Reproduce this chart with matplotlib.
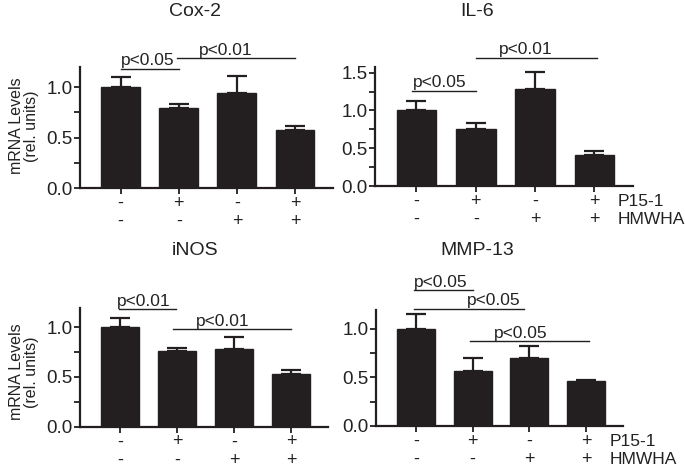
import numpy as np
import matplotlib
matplotlib.use("Agg")
import matplotlib.pyplot as plt
from matplotlib.ticker import MultipleLocator, FuncFormatter

plt.rcParams['font.family'] = ['Liberation Sans', 'DejaVu Sans']

# data
genes = ["Cox-2", "IL-6", "iNOS", "MMP-13"]
p15_row = ["-", "+", "-", "+"]
hmwha_row = ["-", "-", "+", "+"]

cox2_mean = [1.00, 0.79, 0.94, 0.58]
cox2_err = [0.10, 0.04, 0.17, 0.04]
il6_mean = [1.00, 0.755, 1.29, 0.41]
il6_err = [0.13, 0.085, 0.22, 0.05]
inos_mean = [1.00, 0.76, 0.78, 0.53]
inos_err = [0.095, 0.03, 0.12, 0.04]
mmp13_mean = [1.00, 0.567, 0.70, 0.464]
mmp13_err = [0.155, 0.133, 0.12, 0.011]

# significance bars: (x1, x2, y, label, label_x)
cox2_sig = [(0, 1, 1.185, "p<0.05", 0.47), (0.97, 3, 1.29, "p<0.01", 1.80)]
il6_sig = [(-0.07, 1, 1.26, "p<0.05", 0.39), (1, 3.05, 1.70, "p<0.01", 1.85)]
inos_sig = [(-0.02, 0.98, 1.18, "p<0.01", 0.42), (0.93, 3.0, 0.98, "p<0.01", 1.80)]
mmp13_sig = [(-0.03, 1.0, 1.40, "p<0.05", 0.435), (-0.03, 1.91, 1.21, "p<0.05", 1.38),
             (0.95, 3.05, 0.876, "p<0.05", 1.85)]

panels = [
    # gene, mean, err, sig, axes rect, ylim, show row names
    (genes[0], cox2_mean, cox2_err, cox2_sig, [0.1168, 0.5974, 0.369, 0.259], 1.2, False),
    (genes[1], il6_mean, il6_err, il6_sig, [0.5474, 0.6017, 0.3766, 0.2556], 1.58, True),
    (genes[2], inos_mean, inos_err, inos_sig, [0.1168, 0.0863, 0.362, 0.2535], 1.19, False),
    (genes[3], mmp13_mean, mmp13_err, mmp13_sig, [0.549, 0.0878, 0.3606, 0.2484], 1.195, True),
]
title_pos = [(195, 11), (477, 11), (195, 250), (477, 250)]

bar_color = "#231f20"
txt_color = "#222222"
W, H = 685, 467

fig = plt.figure(figsize=(6.85, 4.67), dpi=100)

for k, (name, mean, err, sig, rect, ytop, show_names) in enumerate(panels):
    ax = fig.add_axes(rect)
    x = np.arange(len(mean))
    ax.bar(x, mean, width=0.67, color=bar_color, edgecolor=bar_color, linewidth=1, zorder=2)
    ax.errorbar(x, mean, yerr=[np.zeros(len(err)), err], fmt="none", ecolor=bar_color,
                elinewidth=1.6, capsize=7, capthick=1.6, zorder=1)
    ax.set_xlim(-0.7, 3.65)
    ax.set_ylim(0, ytop)
    for s in ["top", "right"]:
        ax.spines[s].set_visible(False)
    for s in ["left", "bottom"]:
        ax.spines[s].set_linewidth(1.6)
        ax.spines[s].set_color(bar_color)
    ax.yaxis.set_major_locator(MultipleLocator(0.5))
    ax.yaxis.set_minor_locator(MultipleLocator(0.25))
    ax.yaxis.set_major_formatter(FuncFormatter(lambda v, p: "%.1f" % v))
    ax.tick_params(axis="y", which="both", length=4, width=1.3, labelsize=13.5, pad=1.5,
                   color=bar_color, labelcolor=txt_color)
    ax.set_xticks(x)
    ax.set_xticklabels([])
    ax.tick_params(axis="x", length=4.5, width=1.3, color=bar_color)

    for i in x:
        ax.annotate(p15_row[i], xy=(i, 0), xycoords=("data", "axes fraction"),
                    xytext=(0, -11), textcoords="offset points", ha="center", va="center",
                    fontsize=13, color=txt_color, annotation_clip=False)
        ax.annotate(hmwha_row[i], xy=(i, 0), xycoords=("data", "axes fraction"),
                    xytext=(0, -24), textcoords="offset points", ha="center", va="center",
                    fontsize=13, color=txt_color, annotation_clip=False)
    if show_names:
        ax.annotate("P15-1", xy=(3, 0), xycoords=("data", "axes fraction"),
                    xytext=(17, -11), textcoords="offset points", ha="left", va="center",
                    fontsize=12.5, color=txt_color, annotation_clip=False)
        ax.annotate("HMWHA", xy=(3, 0), xycoords=("data", "axes fraction"),
                    xytext=(17, -24), textcoords="offset points", ha="left", va="center",
                    fontsize=12.5, color=txt_color, annotation_clip=False)

    for x1, x2, yy, lab, lx in sig:
        ax.plot([x1, x2], [yy, yy], color=bar_color, linewidth=1.0, clip_on=False)
        ax.annotate(lab, xy=(lx, yy), xytext=(0, 0.3), textcoords="offset points",
                    ha="center", va="bottom", fontsize=12.5, color=txt_color,
                    annotation_clip=False)

    tx, ty = title_pos[k]
    fig.text(tx / W, 1 - ty / H, name, ha="center", va="center", fontsize=14, color=txt_color)

fig.text(24 / W, 1 - 126 / H, "mRNA Levels\n(rel. units)", rotation=90, ha="center",
         va="center", fontsize=11.5, color=txt_color, linespacing=1.0)
fig.text(24 / W, 1 - 372 / H, "mRNA Levels\n(rel. units)", rotation=90, ha="center",
         va="center", fontsize=11.5, color=txt_color, linespacing=1.0)

fig.savefig("out.png", dpi=100)
